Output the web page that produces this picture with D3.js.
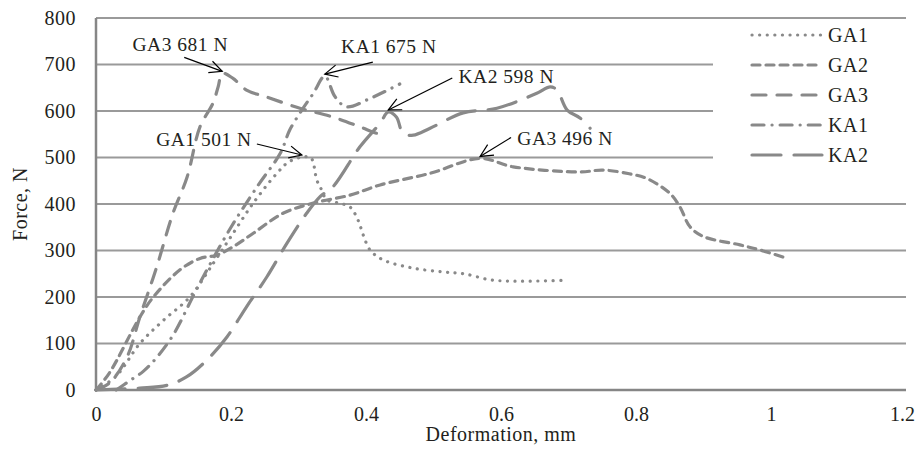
<!DOCTYPE html>
<html>
<head>
<meta charset="utf-8">
<script src="https://cdn.jsdelivr.net/npm/d3@7"></script>
<style>
  body { margin:0; background:#fff; }
  svg text { font-family:"Liberation Serif", "Times New Roman", serif; fill:#231f20; letter-spacing:0.5px; }
</style>
</head>
<body>
<svg id="chart" width="917" height="449"></svg>
<script>
// series values: [deformation mm, force N]
const ga1 = [[0,0],[0.03,30],[0.065,100],[0.1,150],[0.139,200],[0.174,273],[0.2,330],[0.233,402],[0.268,466],[0.285,490],[0.305,501],[0.318,500],[0.322,488],[0.327,452],[0.333,434],[0.342,409],[0.36,402],[0.376,394],[0.388,366],[0.396,333],[0.406,301],[0.425,280],[0.47,262],[0.514,254],[0.545,250],[0.584,237],[0.62,234],[0.695,236]];
const ga2 = [[0,0],[0.02,37],[0.065,157],[0.085,200],[0.124,258],[0.154,283],[0.179,290],[0.203,308],[0.233,337],[0.277,380],[0.322,402],[0.376,419],[0.421,441],[0.495,466],[0.569,498],[0.618,480],[0.717,469],[0.751,473],[0.79,465],[0.816,455],[0.85,423],[0.865,394],[0.88,351],[0.9,330],[0.954,312],[0.984,301],[1.024,283]];
const ga3 = [[0,0],[0.02,15],[0.046,71],[0.065,157],[0.09,265],[0.114,380],[0.135,458],[0.154,566],[0.173,616],[0.181,652],[0.187,681],[0.203,670],[0.223,645],[0.253,630],[0.302,606],[0.351,587],[0.391,566],[0.416,552],[0.43,548]];
const ka1 = [[0.03,0],[0.05,20],[0.07,40],[0.09,70],[0.115,120],[0.145,205],[0.165,260],[0.2,350],[0.24,440],[0.273,509],[0.287,559],[0.305,602],[0.322,638],[0.339,675],[0.354,631],[0.371,609],[0.406,627],[0.45,658]];
const ka2 = [[0,0],[0.065,4],[0.105,10],[0.134,28],[0.164,64],[0.194,114],[0.223,179],[0.253,243],[0.283,316],[0.312,380],[0.332,416],[0.351,437],[0.391,523],[0.421,574],[0.433,598],[0.445,587],[0.455,552],[0.47,548],[0.495,563],[0.544,596],[0.594,606],[0.653,638],[0.673,652],[0.683,645],[0.698,602],[0.717,585],[0.732,563]];

const seriesNames = ["GA1","GA2","GA3","KA1","KA2"];
const seriesData = [ga1, ga2, ga3, ka1, ka2];
const dashes = ["0.1,7.5", "8,6", "14,11", "12,8,0.1,8", "29,13"];

const xTicks = [0, 0.2, 0.4, 0.6, 0.8, 1, 1.2];
const yTicks = [0, 100, 200, 300, 400, 500, 600, 700, 800];

// peak callouts: label, series index, peak point, label offset (px)
const notes = [
  {text:"GA3 681 N", s:2, pt:[0.187,681], tail:[-38,-14], lab:[-42,-20]},
  {text:"KA1 675 N", s:3, pt:[0.339,675], tail:[48,-12], lab:[64,-21]},
  {text:"GA1 501 N", s:0, pt:[0.305,501], tail:[-45,-11], lab:[-98,-9]},
  {text:"KA2 598 N", s:4, pt:[0.433,598], tail:[64,-32], lab:[118,-27]},
  {text:"GA3 496 N", s:1, pt:[0.569,498], tail:[31,-19], lab:[85,-11]}
];

const grey = "#898989";
const svg = d3.select("#chart");
const margin = {left:96, right:11, top:18, bottom:59};
const W = 917, H = 449;

const x = d3.scaleLinear().domain([0,1.2]).range([margin.left, W-margin.right]);
const y = d3.scaleLinear().domain([0,800]).range([H-margin.bottom, margin.top]);

// gridlines
svg.append("g")
  .selectAll("line")
  .data(yTicks.filter(v=>v>0))
  .join("line")
  .attr("x1",x(0)).attr("x2",x(1.2))
  .attr("y1",d=>y(d)).attr("y2",d=>y(d))
  .attr("stroke","#9a9a9a").attr("stroke-width",2);

// axes
const yAxis = svg.append("g")
  .attr("transform",`translate(${x(0)},0)`)
  .call(d3.axisLeft(y).tickValues(yTicks).tickSize(0).tickPadding(20).tickFormat(d3.format("d")));
const xAxis = svg.append("g")
  .attr("transform",`translate(0,${y(0)})`)
  .call(d3.axisBottom(x).tickValues(xTicks).tickSize(0).tickPadding(17).tickFormat(d=>String(d)));
[xAxis, yAxis].forEach(a=>{
  a.select(".domain").attr("stroke","#868686").attr("stroke-width",2.5);
  a.selectAll("text").style("font-size","20px").attr("fill","#231f20");
});
xAxis.selectAll("text").style("letter-spacing","0px");
// last label sits at the window edge: pull it in a little
xAxis.selectAll(".tick").filter(d=>d===1.2).select("text").attr("dx",-4);
xAxis.select(".domain").attr("d",`M${x(0)},0H${x(1.2)}`);
yAxis.select(".domain").attr("d",`M0,${y(0)}V${y(800)}`);

// curves
const line = d3.line().x(d=>x(d[0])).y(d=>y(d[1])).curve(d3.curveCatmullRom.alpha(0.5));
svg.append("g")
  .selectAll("path")
  .data(seriesData)
  .join("path")
  .attr("d",line)
  .attr("fill","none")
  .attr("stroke",grey)
  .attr("stroke-width",3.2)
  .attr("stroke-linecap","round")
  .attr("stroke-dasharray",(d,i)=>dashes[i]);

// legend (white box hides the gridlines behind it)
const leg = svg.append("g");
leg.append("rect")
  .attr("x",713).attr("y",24).attr("width",193).attr("height",154)
  .attr("fill","#fff");
const item = leg.selectAll("g.item")
  .data(seriesNames)
  .join("g")
  .attr("class","item")
  .attr("transform",(d,i)=>`translate(752,${35+i*30})`);
item.append("line")
  .attr("x1",0).attr("x2",70)
  .attr("stroke",grey).attr("stroke-width",3.2)
  .attr("stroke-linecap","round")
  .attr("stroke-dasharray",(d,i)=>dashes[i]);
item.append("text")
  .attr("x",76).attr("dy","0.35em")
  .style("font-size","20px")
  .text(d=>d);

// callouts
const ann = svg.append("g");
notes.forEach(n=>{
  const tx = x(n.pt[0]), ty = y(n.pt[1]) - 2;
  const sx = tx + n.tail[0], sy = ty + n.tail[1];
  const ang = Math.atan2(sy-ty, sx-tx);
  const head = 14, spread = 0.45;
  ann.append("line")
    .attr("x1",sx).attr("y1",sy).attr("x2",tx).attr("y2",ty)
    .attr("stroke","#000").attr("stroke-width",1.2);
  ann.append("path")
    .attr("d",`M${tx+head*Math.cos(ang-spread)},${ty+head*Math.sin(ang-spread)}L${tx},${ty}L${tx+head*Math.cos(ang+spread)},${ty+head*Math.sin(ang+spread)}`)
    .attr("fill","none").attr("stroke","#000").attr("stroke-width",1.2);
  ann.append("text")
    .attr("x",tx+n.lab[0]).attr("y",ty+n.lab[1])
    .attr("text-anchor","middle")
    .style("font-size","19.5px")
    .text(n.text);
});

// axis titles
svg.append("text")
  .attr("x",(x(0)+x(1.2))/2).attr("y",441)
  .attr("text-anchor","middle")
  .style("font-size","20px")
  .text("Deformation, mm");
svg.append("text")
  .attr("transform",`translate(27,${(y(0)+y(800))/2}) rotate(-90)`)
  .attr("text-anchor","middle")
  .style("font-size","20px")
  .text("Force, N");
</script>
</body>
</html>
